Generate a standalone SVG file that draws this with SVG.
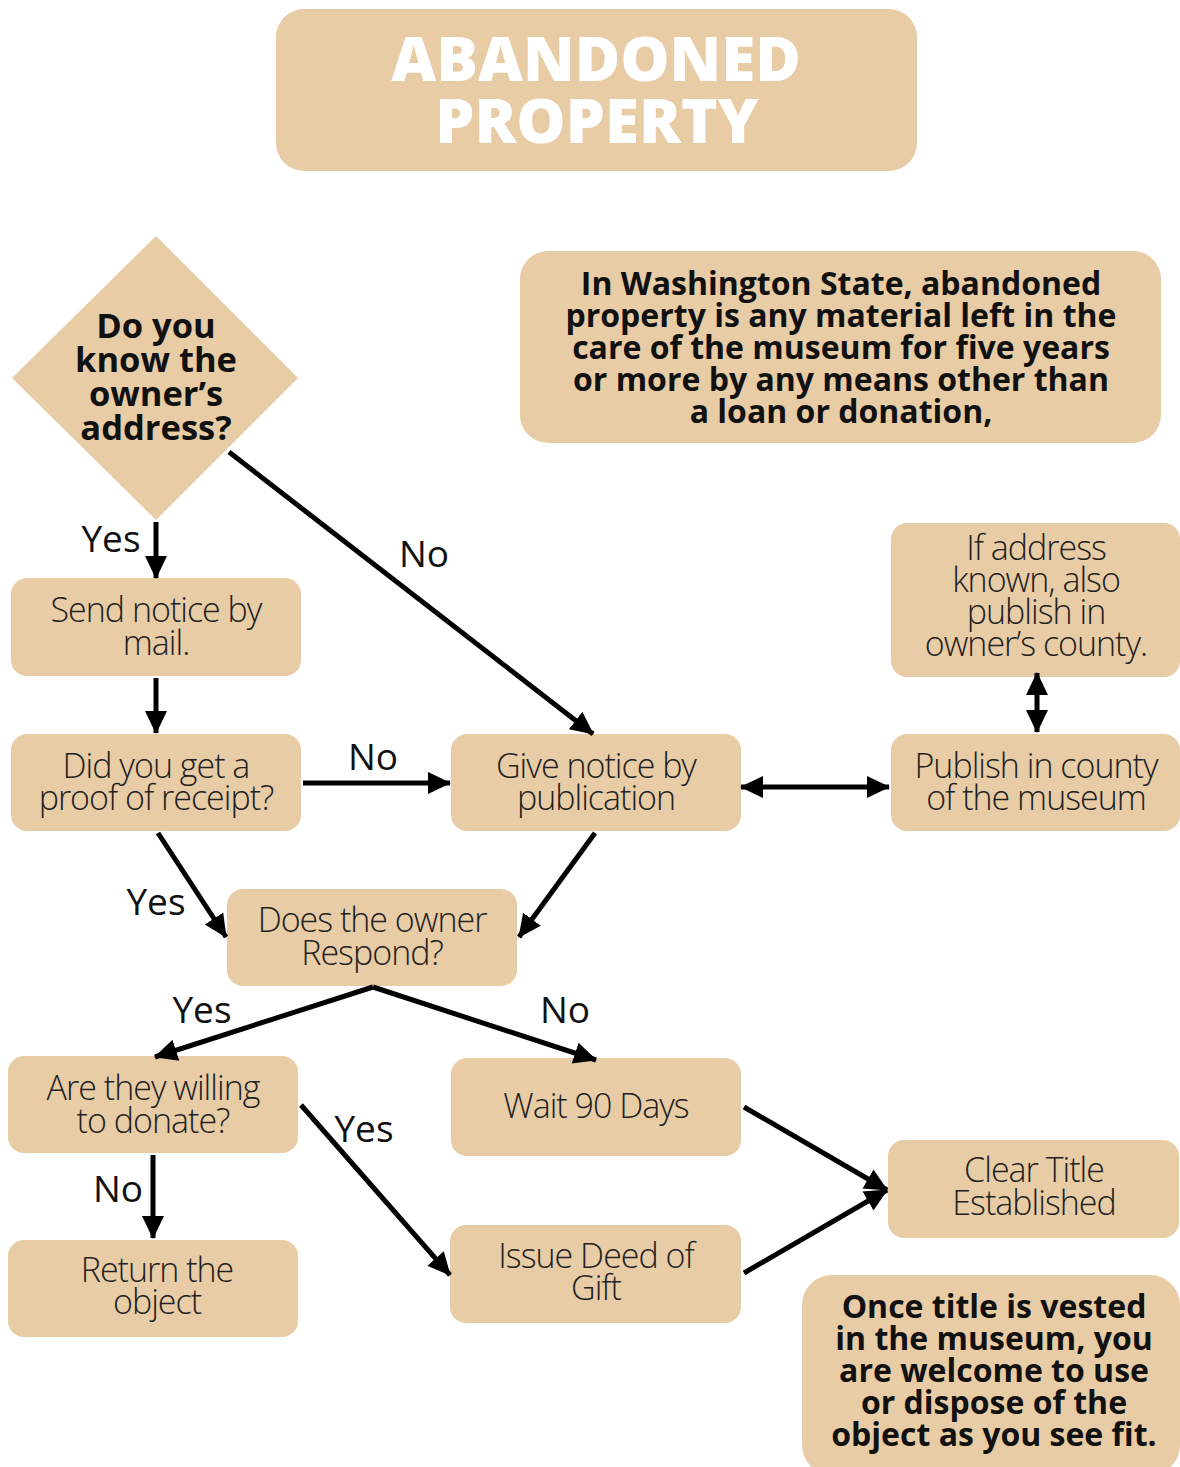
<svg xmlns="http://www.w3.org/2000/svg" width="1180" height="1467" viewBox="0 0 1180 1467">
<style>
.box{fill:#E8CCA6}
.t{font-family:"Open Sans","Noto Sans",sans-serif;font-weight:300;font-size:34px;letter-spacing:-1px;fill:#222;text-anchor:middle}
.b{font-family:"Open Sans","Noto Sans",sans-serif;font-weight:700;font-size:32px;fill:#111;text-anchor:middle}
.d{font-size:34.5px}
.ttl{font-family:"Open Sans","Noto Sans",sans-serif;font-weight:800;font-size:62px;fill:#fff;text-anchor:middle}
.lbl{font-family:"Open Sans","Noto Sans",sans-serif;font-weight:400;font-size:37px;fill:#111;text-anchor:middle}
.c{stroke:#000;stroke-width:5;fill:none}
</style>
<defs>
<marker id="ah" markerUnits="userSpaceOnUse" markerWidth="24" markerHeight="24" viewBox="0 0 24 24" refX="22" refY="12" orient="auto-start-reverse">
<path d="M0,1 L23,12 L0,23 Z" fill="#000"/>
</marker>
</defs>
<g id="title"><rect class="box" x="276" y="9" width="641" height="162" rx="28"/>
<text class="ttl" x="596" y="81">ABANDONED</text><text class="ttl" x="597" y="143">PROPERTY</text></g>
<g id="q-address"><polygon class="box" points="156,236 298,378 156,520 12,378"/>
<text class="b d" x="156" y="338">Do you</text><text class="b d" x="156" y="372">know the</text><text class="b d" x="156" y="406">owner’s</text><text class="b d" x="156" y="440">address?</text></g>
<g id="info"><rect class="box" x="520" y="251" width="641" height="192" rx="28"/>
<text class="b" x="841" y="295">In Washington State, abandoned</text>
<text class="b" x="841" y="327">property is any material left in the</text>
<text class="b" x="841" y="359">care of the museum for five years</text>
<text class="b" x="841" y="391">or more by any means other than</text>
<text class="b" x="841" y="423">a loan or donation,</text></g>
<g id="send-mail"><rect class="box" x="11" y="578" width="290" height="98" rx="16"/>
<text class="t" x="156" y="622">Send notice by</text><text class="t" x="156" y="655">mail.</text></g>
<g id="receipt"><rect class="box" x="11" y="734" width="290" height="97" rx="16"/>
<text class="t" x="156" y="778">Did you get a</text><text class="t" x="156" y="810">proof of receipt?</text></g>
<g id="publication"><rect class="box" x="451" y="734" width="290" height="97" rx="16"/>
<text class="t" x="596" y="778">Give notice by</text><text class="t" x="596" y="810">publication</text></g>
<g id="publish-museum"><rect class="box" x="891" y="734" width="289" height="97" rx="16"/>
<text class="t" x="1036" y="778">Publish in county</text><text class="t" x="1036" y="810">of the museum</text></g>
<g id="publish-owner"><rect class="box" x="891" y="523" width="289" height="154" rx="16"/>
<text class="t" x="1036" y="560">If address</text><text class="t" x="1036" y="592">known, also</text><text class="t" x="1036" y="624">publish in</text><text class="t" x="1036" y="656">owner’s county.</text></g>
<g id="respond"><rect class="box" x="227" y="889" width="290" height="97" rx="16"/>
<text class="t" x="372" y="932">Does the owner</text><text class="t" x="372" y="965">Respond?</text></g>
<g id="donate"><rect class="box" x="8" y="1056" width="290" height="97" rx="16"/>
<text class="t" x="153" y="1100">Are they willing</text><text class="t" x="153" y="1133">to donate?</text></g>
<g id="wait"><rect class="box" x="451" y="1058" width="290" height="98" rx="16"/>
<text class="t" x="596" y="1118">Wait 90 Days</text></g>
<g id="deed"><rect class="box" x="450" y="1225" width="291" height="98" rx="16"/>
<text class="t" x="596" y="1268">Issue Deed of</text><text class="t" x="596" y="1300">Gift</text></g>
<g id="clear-title"><rect class="box" x="888" y="1140" width="291" height="98" rx="16"/>
<text class="t" x="1034" y="1182">Clear Title</text><text class="t" x="1034" y="1215">Established</text></g>
<g id="return"><rect class="box" x="8" y="1240" width="290" height="97" rx="16"/>
<text class="t" x="157" y="1282">Return the</text><text class="t" x="157" y="1314">object</text></g>
<g id="vested"><rect class="box" x="802" y="1275" width="378" height="200" rx="30"/>
<text class="b" x="994" y="1318">Once title is vested</text>
<text class="b" x="994" y="1350">in the museum, you</text>
<text class="b" x="994" y="1382">are welcome to use</text>
<text class="b" x="994" y="1414">or dispose of the</text>
<text class="b" x="994" y="1446">object as you see fit.</text></g>
<g id="connectors">
<line class="c" x1="156" y1="522" x2="156" y2="578" marker-end="url(#ah)"/>
<line class="c" x1="229" y1="452" x2="593" y2="734" marker-end="url(#ah)"/>
<line class="c" x1="156" y1="678" x2="156" y2="733" marker-end="url(#ah)"/>
<line class="c" x1="303" y1="783" x2="450" y2="783" marker-end="url(#ah)"/>
<line class="c" x1="741" y1="787" x2="889" y2="787" marker-start="url(#ah)" marker-end="url(#ah)"/>
<line class="c" x1="1037" y1="673" x2="1037" y2="732" marker-start="url(#ah)" marker-end="url(#ah)"/>
<line class="c" x1="158" y1="833" x2="226" y2="937" marker-end="url(#ah)"/>
<line class="c" x1="595" y1="833" x2="519" y2="937" marker-end="url(#ah)"/>
<line class="c" x1="373" y1="987" x2="155" y2="1057" marker-end="url(#ah)"/>
<line class="c" x1="373" y1="987" x2="596" y2="1060" marker-end="url(#ah)"/>
<line class="c" x1="153" y1="1155" x2="153" y2="1238" marker-end="url(#ah)"/>
<line class="c" x1="301" y1="1105" x2="450" y2="1275" marker-end="url(#ah)"/>
<line class="c" x1="744" y1="1107" x2="887" y2="1190" marker-end="url(#ah)"/>
<line class="c" x1="744" y1="1273" x2="887" y2="1190" marker-end="url(#ah)"/>
<text class="lbl" x="111" y="552">Yes</text>
<text class="lbl" x="424" y="567">No</text>
<text class="lbl" x="373" y="770">No</text>
<text class="lbl" x="156" y="915">Yes</text>
<text class="lbl" x="202" y="1023">Yes</text>
<text class="lbl" x="565" y="1023">No</text>
<text class="lbl" x="118" y="1202">No</text>
<text class="lbl" x="364" y="1142">Yes</text>
</g>
</svg>
